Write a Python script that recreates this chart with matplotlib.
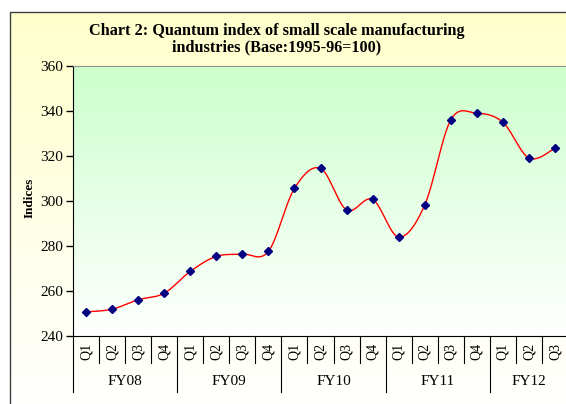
import numpy as np
import matplotlib.pyplot as plt
from matplotlib.lines import Line2D

plt.rcParams['font.family'] = ['Liberation Serif', 'DejaVu Serif']

# data
quarters = ['Q1', 'Q2', 'Q3', 'Q4'] * 4 + ['Q1', 'Q2', 'Q3']
years = ['FY08', 'FY09', 'FY10', 'FY11', 'FY12']
year_len = [4, 4, 4, 4, 3]
index = [250.7, 251.9, 256.1, 259.0, 268.7, 275.4, 276.4, 277.6, 305.6,
         314.5, 296.0, 300.7, 284.0, 298.2, 336.0, 339.0, 335.0, 319.1, 323.4]
yticks = [240, 260, 280, 300, 320, 340, 360]


def smooth(x, y, n=30):     # excel-like bezier smoothing through the points
    P = np.column_stack([x, y])
    out = []
    for i in range(len(P) - 1):
        p0 = P[max(i - 1, 0)]; p1 = P[i]; p2 = P[i + 1]; p3 = P[min(i + 2, len(P) - 1)]
        c1 = p1 + (p2 - p0) / 6.0
        c2 = p2 - (p3 - p1) / 6.0
        t = np.linspace(0, 1, n)[:, None]
        seg = (1 - t)**3 * p1 + 3 * (1 - t)**2 * t * c1 + 3 * (1 - t) * t**2 * c2 + t**3 * p2
        out.append(seg if i == 0 else seg[1:])
    return np.vstack(out)


W, H = 566, 404
fig = plt.figure(figsize=(W / 100, H / 100), dpi=100)

# outer chart area: yellow gradient inside a frame
bg = fig.add_axes([0, 0, 1, 1], zorder=-5)
bg.axis('off')
g = np.linspace(0, 1, 256)[:, None, None]
top = np.array([1.0, 1.0, 0.80]); bot = np.array([1.0, 1.0, 1.0])
img = (1 - g) * top + g * bot
img = np.repeat(img, 2, axis=1)
bg.imshow(img, extent=[10, W + 5, H + 5, 12], aspect='auto', interpolation='bilinear')
bg.plot([10, 10, W + 5], [H + 5, 12, 12], color='#404040', lw=1.0)
bg.set_xlim(0, W); bg.set_ylim(H, 0)

ax = fig.add_axes([73 / W, (H - 336) / H, 495 / W, 270 / H])
g2 = np.linspace(0, 1, 256)[:, None, None]
img2 = (1 - g2) * np.array([0.80, 1.0, 0.80]) + g2 * np.array([1.0, 1.0, 1.0])
img2 = np.repeat(img2, 2, axis=1)
ax.imshow(img2, extent=[0, 1, 0, 1], transform=ax.transAxes, aspect='auto',
          interpolation='bilinear', zorder=0)

x = np.arange(len(index))
curve = smooth(x, index)
ax.plot(curve[:, 0], curve[:, 1], color='red', lw=1.0, zorder=2)
ax.plot(x, index, linestyle='none', marker='D', ms=4.5, color='#000080', zorder=3)

ax.set_xlim(-0.5, len(index) - 0.5)
ax.set_ylim(240, 360)
ax.set_yticks(yticks)
ax.tick_params(axis='y', direction='out', length=5, width=1, labelsize=11, pad=2)
ax.set_xticks([])
ax.spines['right'].set_visible(False)
ax.spines['top'].set_color('#909090')
ax.spines['left'].set_color('black')
ax.spines['bottom'].set_color('black')

# two-level category axis
tr = ax.get_xaxis_transform()
edges = np.cumsum([0] + year_len) - 0.5
for b in np.arange(len(index) + 1) - 0.5:
    long = np.any(np.isclose(b, edges))
    ax.add_line(Line2D([b, b], [0, -0.207 if long else -0.1], transform=tr,
                       color='black', lw=0.8, clip_on=False))
for i, q in enumerate(quarters):
    ax.text(i, -0.056, q, transform=tr, rotation=90, ha='center', va='center', fontsize=10)
for k, fy in enumerate(years):
    ax.text((edges[k] + edges[k + 1]) / 2, -0.167, fy, transform=tr,
            ha='center', va='center', fontsize=11)

fig.text(30 / W, 1 - 198 / H, 'Indices', rotation=90, ha='center', va='center',
         fontsize=9.5, fontweight='bold')
fig.text(277 / W, 1 - 31 / H, 'Chart 2: Quantum index of small scale manufacturing',
         ha='center', va='center', fontsize=11.7, fontweight='bold')
fig.text(277 / W, 1 - 47 / H, 'industries (Base:1995-96=100)',
         ha='center', va='center', fontsize=11.7, fontweight='bold')

fig.savefig('out.png', dpi=100)
